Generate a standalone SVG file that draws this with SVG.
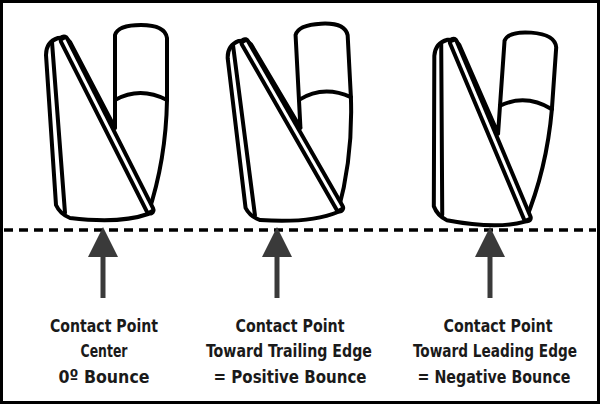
<svg xmlns="http://www.w3.org/2000/svg" width="600" height="404" viewBox="0 0 600 404">
<style>
.o{fill:none;stroke:#000;stroke-width:4;stroke-linejoin:round;stroke-linecap:round}
.t{font-family:"DejaVu Sans Condensed","Liberation Sans",sans-serif;font-weight:bold;font-size:18px;text-anchor:middle;fill:#1a1a1a}
</style>
<defs>
<g id="club">
<path class="o" fill="#fff" d="M115,128 L115,35 Q118,25 141,25 Q165,25 167,38 L167,100 Q166,160 148,214 Q120,224 70,218 Q60,214 56,205 L46,55 Q46,42 58,38 Q66,37 70,42 L115,128"/>
<path class="o" d="M115,100 Q140,86 167,100"/>
<path class="o" d="M52,42 L65,213"/>
<path d="M64,40 L150,210" stroke="#000" stroke-width="11" stroke-linecap="round" fill="none"/>
<path d="M64,40 L150,210" stroke="#fff" stroke-width="3" fill="none"/>
</g>
<marker id="ah" markerWidth="6" markerHeight="6" refX="1" refY="3" orient="auto" markerUnits="strokeWidth"><path d="M0,0L6,3L0,6z" fill="#3a3a3a"/></marker>
</defs>
<rect x="1.5" y="1.5" width="597" height="401" fill="#fff" stroke="#000" stroke-width="3"/>
<g id="club1"><use href="#club"/></g>
<g id="club2"><use href="#club" transform="translate(190,0) rotate(-3 110 215)"/></g>
<g id="club3"><use href="#club" transform="translate(377,5) rotate(4 110 215)"/></g>
<g id="connectors">
<line x1="4" y1="230" x2="596" y2="230" stroke="#000" stroke-width="3.5" stroke-dasharray="9,6"/>
<line x1="103" y1="298" x2="103" y2="252" stroke="#3a3a3a" stroke-width="5" marker-end="url(#ah)"/>
<line x1="277" y1="298" x2="277" y2="252" stroke="#3a3a3a" stroke-width="5" marker-end="url(#ah)"/>
<line x1="490" y1="298" x2="490" y2="252" stroke="#3a3a3a" stroke-width="5" marker-end="url(#ah)"/>
</g>
<g id="label1"><text class="t" x="104" y="332" textLength="108" lengthAdjust="spacingAndGlyphs">Contact Point</text><text class="t" x="104" y="357" textLength="47" lengthAdjust="spacingAndGlyphs">Center</text><text class="t" x="104" y="383" textLength="91" lengthAdjust="spacingAndGlyphs">0º Bounce</text></g>
<g id="label2"><text class="t" x="290" y="332" textLength="109" lengthAdjust="spacingAndGlyphs">Contact Point</text><text class="t" x="289" y="357" textLength="166" lengthAdjust="spacingAndGlyphs">Toward Trailing Edge</text><text class="t" x="290" y="383" textLength="153" lengthAdjust="spacingAndGlyphs">= Positive Bounce</text></g>
<g id="label3"><text class="t" x="498" y="332" textLength="109" lengthAdjust="spacingAndGlyphs">Contact Point</text><text class="t" x="495" y="357" textLength="164" lengthAdjust="spacingAndGlyphs">Toward Leading Edge</text><text class="t" x="494" y="383" textLength="153" lengthAdjust="spacingAndGlyphs">= Negative Bounce</text></g>
</svg>
